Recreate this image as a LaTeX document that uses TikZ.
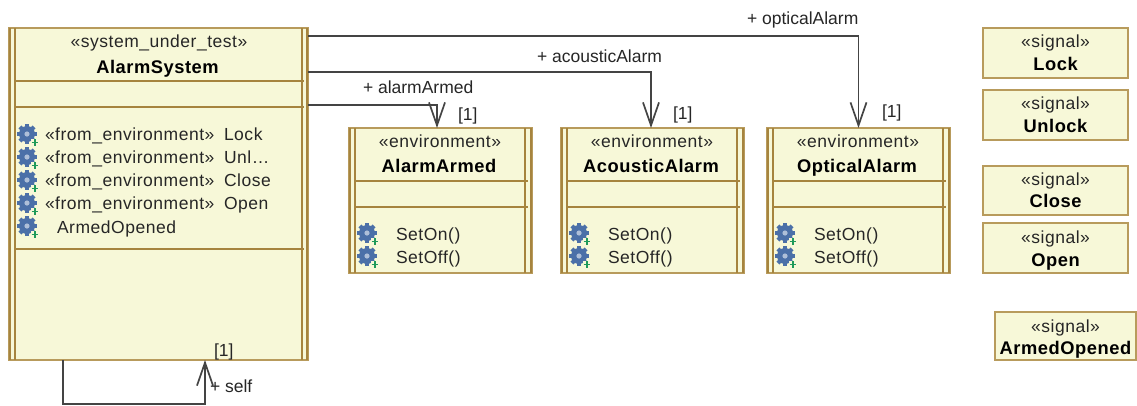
\documentclass[tikz,border=0pt]{standalone}
\usepackage{fontspec}
\setmainfont{Liberation Sans}
\newfontfamily\spaced[LetterSpace=3]{Liberation Sans}
\newfontfamily\spacedb[LetterSpace=3]{Liberation Sans}
\usetikzlibrary{arrows.meta}
\definecolor{umlfill}{HTML}{F7F8D8}
\definecolor{umlline}{HTML}{A6843E}
\definecolor{umlouter}{HTML}{B89B5C}
\definecolor{conn}{HTML}{444444}
\definecolor{txt}{HTML}{262626}
\definecolor{gearblue}{HTML}{4B70A8}
\definecolor{plusgreen}{HTML}{1E9A5A}
\newcommand{\fp}{\fontsize{17.5}{20}\selectfont}
\newcommand{\fs}{\fontsize{17.5}{20}\selectfont\spaced}
\newcommand{\fb}{\fontsize{18.3}{20}\selectfont\spacedb\bfseries}
\tikzset{
  x=1pt,y=-1pt,
  boxbase/.style={draw=umlouter,fill=umlfill,line width=1.6pt,anchor=north west,inner sep=0,outer sep=0,rectangle},
  lab/.style={inner sep=0,outer sep=0,text=txt,font=\fp,anchor=base west},
  stereo/.style={inner sep=0,outer sep=0,text=txt,font=\fs,anchor=base},
  title/.style={inner sep=0,outer sep=0,text=black,font=\fb,anchor=base},
  item/.style={inner sep=0,outer sep=0,text=txt,font=\fs,anchor=base west},
  assoc/.style={draw=conn,line width=1.3pt,-{Straight Barb[length=23pt,width=16pt,line width=1.7pt]}},
  band/.style={draw=umlline,line width=2.6pt},
  bandouter/.style={draw=umlline,line width=2pt},
  opicon/.pic={
    \fill[gearblue] (0,0) circle (8);
    \foreach \a in {0,45,...,315}{\fill[gearblue,rotate=\a] (-2.1,-10) rectangle (2.1,-5);}
    \fill[umlfill] (4,5) rectangle (11.5,12);
    \fill[white!55!gearblue] (0,0) circle (2.6);
    \draw[plusgreen,line width=1.4pt] (4.5,8.5) -- (11,8.5) (7.8,5.3) -- (7.8,11.7);
  }
}
\newcommand{\envbox}[3]{%
  \node[boxbase,minimum width=183pt,minimum height=145pt] (#1) at (#2,128) {};
  \draw[band] (#2+6,128) -- (#2+6,273) (#2+176,128) -- (#2+176,273);
  \draw[bandouter] (#2+1,128) -- (#2+1,273) (#2+182,128) -- (#2+182,273);
  \draw[band] (#2+6,181) -- (#2+179,181) (#2+6,207) -- (#2+179,207);
  \node[stereo] (#1st) at (#2+91,147) {«environment»};
  \node[title] (#1nm) at (#2+90,172.5) {#3};
  \pic at (#2+18,233) {opicon};
  \pic at (#2+18,256) {opicon};
  \node[item] (#1on) at (#2+47,240) {SetOn()};
  \node[item] (#1off) at (#2+47,263) {SetOff()};
}
\newcommand{\sigbox}[8]{%
  \node[boxbase,minimum width=#3pt,minimum height=#5pt] (#1) at (#2,#4) {};
  \node[stereo] (#1st) at (#2+#3/2,#6) {«signal»};
  \node[title] (#1nm) at (#2+#3/2,#7) {#8};
}
\begin{document}
\begin{tikzpicture}
\useasboundingbox (0,0) rectangle (1137,405);
% system box
\node[boxbase,minimum width=299pt,minimum height=332pt] (sys) at (9,28) {};
\draw[band] (15,28) -- (15,360) (302,28) -- (302,360);
\draw[bandouter] (10,28) -- (10,360) (307,28) -- (307,360);
\draw[band] (15,81) -- (304,81) (15,107) -- (304,107) (15,249) -- (304,249);
\node[stereo] (sysst) at (159,47) {«system\_under\_test»};
\node[title] (sysnm) at (157.5,73) {AlarmSystem};
\foreach \y in {134,157,180,203,226}{\pic at (27,\y) {opicon};}
\node[item] (r1) at (45,140) {«from\_environment»};
\node[item] (r2) at (45,163) {«from\_environment»};
\node[item] (r3) at (45,186) {«from\_environment»};
\node[item] (r4) at (45,209) {«from\_environment»};
\node[item] (n1) at (224,140) {Lock};
\node[item] (n2) at (224,163) {Unl…};
\node[item] (n3) at (224,186) {Close};
\node[item] (n4) at (224,209) {Open};
\node[item] (n5) at (57,233) {ArmedOpened};
% environment boxes
\envbox{aa}{349}{AlarmArmed}
\envbox{ac}{561}{AcousticAlarm}
\envbox{op}{767}{OpticalAlarm}
% signals
\sigbox{lock}{983}{145}{28}{50}{47}{70}{Lock}
\sigbox{unlock}{983}{145}{90}{50}{109}{132}{Unlock}
\sigbox{close}{983}{145}{166}{49}{185}{207}{Close}
\sigbox{open}{983}{145}{223}{50}{243}{266}{Open}
\sigbox{armed}{995}{141}{312}{48}{332}{354}{ArmedOpened}
% connectors
\coordinate (c1) at (308,105);
\coordinate (c2) at (308,72);
\coordinate (c3) at (308,36);
\draw[assoc] (c1) -| ([xshift=-3.5pt]aa.north);
\draw[assoc] (c2) -| ([xshift=-1.5pt]ac.north);
\draw[assoc] (c3) -| (op.north);
\coordinate (s1) at (63,360);
\coordinate (s2) at (205,360);
\draw[assoc] (s1) -- (63,404) -- (205,404) -- (s2);
% labels
\node[lab] (l1) at (747,24) {+ opticalAlarm};
\node[lab] (l2) at (537,62) {+ acousticAlarm};
\node[lab] (l3) at (363,93) {+ alarmArmed};
\node[lab] (l4) at (210,392) {+ self};
\node[lab] (m1) at (458,120) {[1]};
\node[lab] (m2) at (673,119) {[1]};
\node[lab] (m3) at (882,117) {[1]};
\node[lab] (m4) at (214,356) {[1]};
\end{tikzpicture}
\end{document}
